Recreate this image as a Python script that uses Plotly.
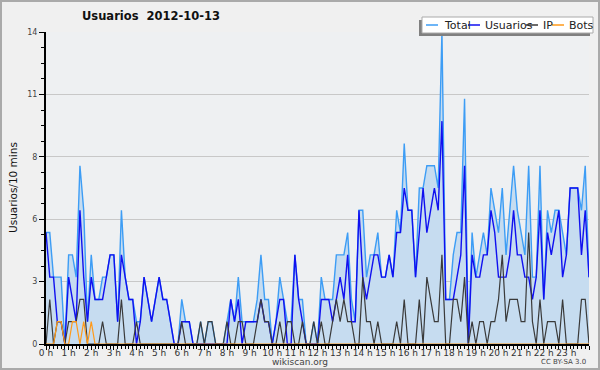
import plotly.graph_objects as go

# 10-minute intervals over the day (index 0 = 0h00 ... 144 = 24h00)
total = [5,5,3,3,3,0, 4,4,3,8,6,1, 4,2,2,3,3,4, 4,1,6,3,2,2,
         1,1,3,2,1,2, 3,2,2,1,0,0, 2,1,1,0,0,1, 0,1,1,0,0,0,
         1,2,1,3,1,1, 1,1,2,4,2,2, 0,1,3,2,1,1, 4,2,2,0,0,1,
         0,3,2,2,2,4, 4,4,5,2,1,6, 6,3,4,4,5,3, 3,4,3,6,5,9,
         6,6,3,7,7,8, 8,8,7,14,2,2, 4,5,5,11,0,5, 3,4,5,4,7,6,
         5,7,4,6,8,6, 5,4,8,3,3,8, 2,6,5,6,6,5, 4,7,7,7,6,8, 3]
usuarios = [5,3,3,1,1,0, 3,2,1,6,3,1, 3,2,2,2,3,4, 4,1,4,3,2,2,
            0,1,3,2,1,2, 3,2,2,1,0,0, 1,1,1,0,0,0, 0,0,0,0,0,0,
            0,2,1,2,0,1, 1,1,1,2,1,1, 0,1,2,2,0,0, 4,2,1,0,0,0,
            0,2,2,2,1,2, 3,2,4,1,1,6, 3,2,3,4,4,3, 3,4,3,5,5,7,
            6,6,3,5,7,5, 6,7,6,10,2,2, 2,3,4,8,0,4, 3,3,4,4,6,5,
            3,3,3,4,6,4, 4,3,3,2,3,6, 2,5,4,5,6,3, 4,7,7,7,4,6, 3]
ip = [0,2,0,1,1,0, 1,1,1,2,2,0, 0,0,0,1,0,0, 0,0,2,0,0,0,
      1,0,0,0,0,0, 0,0,0,0,0,0, 1,0,0,0,0,1, 0,1,1,0,0,0,
      1,0,0,1,1,0, 0,0,1,2,1,1, 0,0,1,0,1,1, 0,0,1,0,0,1,
      0,1,0,0,1,2, 1,2,1,1,0,0, 3,1,1,0,1,0, 0,0,0,1,0,2,
      0,0,0,2,0,3, 2,1,1,4,0,0, 2,2,1,3,0,1, 0,1,1,0,1,1,
      2,4,1,2,2,2, 1,1,5,1,0,2, 0,1,1,1,0,2, 0,0,0,0,2,2, 0]
bots = [0,0,0,1,1,0, 0,1,1,0,1,0, 1,0,0,0,0,0, 0,0,0,0,0,0] + [0] * 121

hours = [i / 6 for i in range(len(total))]
hour_ticks = list(range(25))
hour_labels = [f"{h} h" for h in range(24)] + [""]
y_ticks = [0, 2.8, 5.6, 8.4, 11.2, 14]
y_labels = ["0", "3", "6", "8", "11", "14"]

W, H = 600, 370
L, R, T, B = 46, 11, 32, 26
PW, PH = W - L - R, H - T - B


def px(x):
    return (x - L) / PW


def py(y):
    return (H - B - y) / PH


fig = go.Figure()
fig.add_trace(go.Scatter(x=hours, y=total, mode="lines", name="Total",
                         line=dict(color="#3d9df5", width=1.4),
                         fill="tozeroy", fillcolor="#c6dcf0"))
fig.add_trace(go.Scatter(x=hours, y=usuarios, mode="lines", name="Usuarios",
                         line=dict(color="#1010f0", width=1.4)))
fig.add_trace(go.Scatter(x=hours, y=ip, mode="lines", name="IP",
                         line=dict(color="#3a3a3a", width=1.2)))
fig.add_trace(go.Scatter(x=hours, y=bots, mode="lines", name="Bots",
                         line=dict(color="#ff9a1a", width=1.2)))

font = "DejaVu Sans"
shapes = [
    # outer border
    dict(type="rect", xref="paper", yref="paper", x0=px(1), x1=px(599), y0=py(369), y1=py(1),
         line=dict(color="#aaaaaa", width=2), fillcolor="rgba(0,0,0,0)", layer="above"),
    # legend shadow + box
    dict(type="rect", xref="paper", yref="paper", x0=px(419), x1=px(590), y0=py(36), y1=py(20),
         line=dict(width=0), fillcolor="#808080", layer="above"),
    dict(type="rect", xref="paper", yref="paper", x0=px(422), x1=px(593), y0=py(33), y1=py(17),
         line=dict(color="#aaaaaa", width=1), fillcolor="white", layer="above"),
]
legend_items = [("Total", "#3d9df5", 426, 442), ("Usuarios", "#1010f0", 468, 483),
                ("IP", "#3a3a3a", 526, 541), ("Bots", "#ff9a1a", 552, 567)]
annotations = []
for name, col, lx, tx in legend_items:
    shapes.append(dict(type="line", xref="paper", yref="paper", x0=px(lx), x1=px(lx + 12),
                       y0=py(25), y1=py(25), line=dict(color=col, width=1.5), layer="above"))
    annotations.append(dict(text=name, xref="paper", yref="paper", x=px(tx), y=py(25),
                            xanchor="left", yanchor="middle", showarrow=False,
                            font=dict(family=font, size=11, color="#222")))

annotations += [
    dict(text="Usuarios  2012-10-13", xref="paper", yref="paper", x=px(151), y=py(16),
         xanchor="center", yanchor="middle", showarrow=False,
         font=dict(family="DejaVu Sans", size=11.5, color="#111", weight="bold")),
    dict(text="Usuarios/10 mins", xref="paper", yref="paper", x=px(13), y=py(188),
         xanchor="center", yanchor="middle", showarrow=False, textangle=-90,
         font=dict(family=font, size=10.5, color="#111")),
    dict(text="wikiscan.org", xref="paper", yref="paper", x=px(300), y=py(362),
         xanchor="center", yanchor="middle", showarrow=False,
         font=dict(family=font, size=9, color="#444")),
    dict(text="CC BY-SA 3.0", xref="paper", yref="paper", x=px(588), y=py(362),
         xanchor="right", yanchor="middle", showarrow=False,
         font=dict(family=font, size=7, color="#444")),
]

fig.update_layout(
    width=W, height=H, margin=dict(l=L, r=R, t=T, b=B, pad=0, autoexpand=False),
    paper_bgcolor="#f0f0f0", plot_bgcolor="#eef0f2",
    showlegend=False, shapes=shapes, annotations=annotations,
    font=dict(family=font, size=9, color="#333"),
    xaxis=dict(range=[0, 24], tickvals=hour_ticks, ticktext=hour_labels, automargin=False,
               showline=True, linecolor="black", linewidth=2, ticks="outside",
               ticklen=4, tickwidth=1, tickcolor="black", showgrid=False, zeroline=False,
               ticklabelstandoff=-5,
               tickfont=dict(family=font, size=9, color="#333"),
               minor=dict(dtick=1 / 6, tick0=0, ticklen=3, tickcolor="black", ticks="outside",
                          showgrid=False)),
    yaxis=dict(range=[0, 14], tickvals=y_ticks, ticktext=y_labels, automargin=False,
               showline=True, linecolor="black", linewidth=2, ticks="outside",
               ticklen=5, tickwidth=1, tickcolor="black", showgrid=True,
               gridcolor="#c8c8c8", gridwidth=1, zeroline=False,
               tickfont=dict(family=font, size=8, color="#444"),
               minor=dict(dtick=0.7, tick0=0, ticklen=3, tickcolor="black", ticks="outside",
                          showgrid=False)),
)

fig.write_html("out.html", config={"displayModeBar": False},
               post_script="document.body.style.margin='0';document.body.style.overflow='hidden';")
